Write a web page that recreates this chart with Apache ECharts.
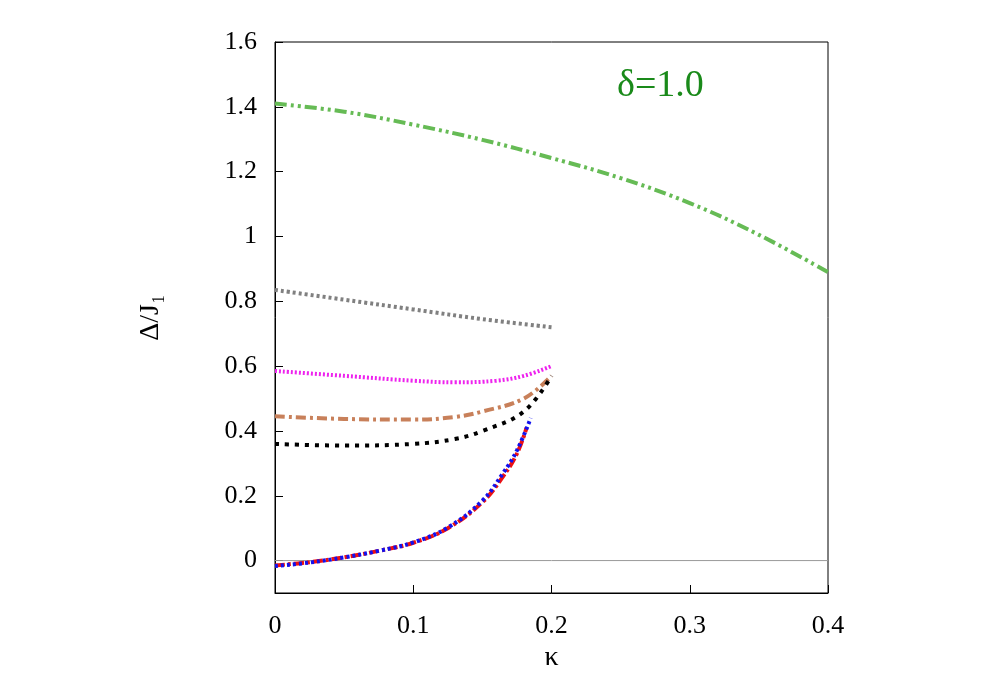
<!DOCTYPE html>
<html>
<head>
<meta charset="utf-8">
<script src="https://cdn.jsdelivr.net/npm/echarts@6/dist/echarts.min.js"></script>
</head>
<body style="margin:0">
<div id="main" style="width:1000px;height:700px"></div>
<script>
// values
var lsub2 = [[0,1.41],[0.05,1.385],[0.1,1.345],[0.15,1.298],[0.2,1.242],[0.25,1.18],[0.3,1.103],[0.35,1.005],[0.4,0.89]];
var lsub4 = [[0,0.835],[0.05,0.805],[0.1,0.775],[0.15,0.745],[0.2,0.72]];
var lsub6 = [[0,0.585],[0.05,0.57],[0.1,0.555],[0.13,0.55],[0.16,0.555],[0.18,0.57],[0.2,0.60]];
var lsub8 = [[0,0.445],[0.05,0.437],[0.1,0.435],[0.13,0.443],[0.15,0.46],[0.18,0.5],[0.2,0.57]];
var lsub10 = [[0,0.36],[0.05,0.355],[0.1,0.36],[0.13,0.375],[0.15,0.40],[0.18,0.46],[0.2,0.57]];
var lsubInf1 = [[0,-0.015],[0.025,-0.005],[0.05,0.01],[0.075,0.03],[0.1,0.055],[0.125,0.1],[0.15,0.18],[0.165,0.26],[0.175,0.33],[0.182,0.41]];
var lsubInf2 = [[0,-0.017],[0.025,-0.006],[0.05,0.01],[0.075,0.03],[0.1,0.056],[0.125,0.102],[0.15,0.185],[0.165,0.27],[0.175,0.34],[0.185,0.44]];
var xTicks = [0, 0.1, 0.2, 0.3, 0.4];
var yTicks = [0, 0.2, 0.4, 0.6, 0.8, 1, 1.2, 1.4, 1.6];

var font = 'Liberation Serif';
function line(name, data, color, type, width) {
  return {
    name: name, type: 'line', data: data, smooth: 0.4, symbol: 'none',
    lineStyle: { color: color, type: type, width: width }, itemStyle: { color: color }
  };
}

var myChart = echarts.init(document.getElementById('main'));
var option = {
  animation: false,
  textStyle: { fontFamily: font },
  title: {
    text: 'δ=1.0', left: 612, top: 62,
    textStyle: { fontFamily: font, fontSize: 38, fontWeight: 'normal', color: '#1a8a1a' }
  },
  grid: { left: 275, right: 172, top: 42, bottom: 107, show: true, borderColor: '#000', borderWidth: 1 },
  legend: {
    orient: 'vertical', right: 192, top: 347, align: 'right', itemGap: 6,
    itemWidth: 36, itemHeight: 10, icon: 'path://M0,0',
    textStyle: { fontFamily: font, fontSize: 15, color: '#000' },
    data: ['LSUB2','LSUB4','LSUB6','LSUB8','LSUB10','LSUB∞(1)','LSUB∞(2)']
  },
  xAxis: {
    type: 'value', min: 0, max: 0.4, interval: 0.1,
    name: 'κ', nameLocation: 'middle', nameGap: 50,
    nameTextStyle: { fontFamily: font, fontSize: 28, color: '#000' },
    axisLine: { onZero: false, lineStyle: { color: '#000' } },
    axisTick: { inside: true, length: 8 },
    axisLabel: { fontFamily: font, fontSize: 26, color: '#000', margin: 20, customValues: xTicks },
    splitLine: { show: false }
  },
  yAxis: {
    type: 'value', min: -0.1, max: 1.6,
    name: 'Δ/J₁', nameLocation: 'middle', nameGap: 110, nameRotate: 90,
    nameTextStyle: { fontFamily: font, fontSize: 28, color: '#000' },
    axisLine: { show: true, lineStyle: { color: '#000' } },
    axisTick: { inside: true, length: 8, customValues: yTicks },
    axisLabel: { fontFamily: font, fontSize: 26, color: '#000', margin: 18, customValues: yTicks },
    splitLine: { show: false }
  },
  series: [
    line('LSUB2', lsub2, '#66bb55', [12, 4, 3, 4, 3, 4], 4),
    line('LSUB4', lsub4, '#808080', [3, 3], 4),
    line('LSUB6', lsub6, '#ee22ee', [2, 2], 4),
    line('LSUB8', lsub8, '#c8805a', [10, 4, 3, 4], 4),
    line('LSUB10', lsub10, '#000000', [4, 6], 4),
    line('LSUB∞(1)', lsubInf1, '#ee1111', [10, 3, 3, 3], 4),
    line('LSUB∞(2)', lsubInf2, '#1111ee', [3, 3], 4),
    {
      type: 'line', data: [[0, 0], [0.4, 0]], symbol: 'none', silent: true,
      lineStyle: { color: '#999', width: 1 }, z: 1
    }
  ]
};
myChart.setOption(option);
</script>
</body>
</html>
